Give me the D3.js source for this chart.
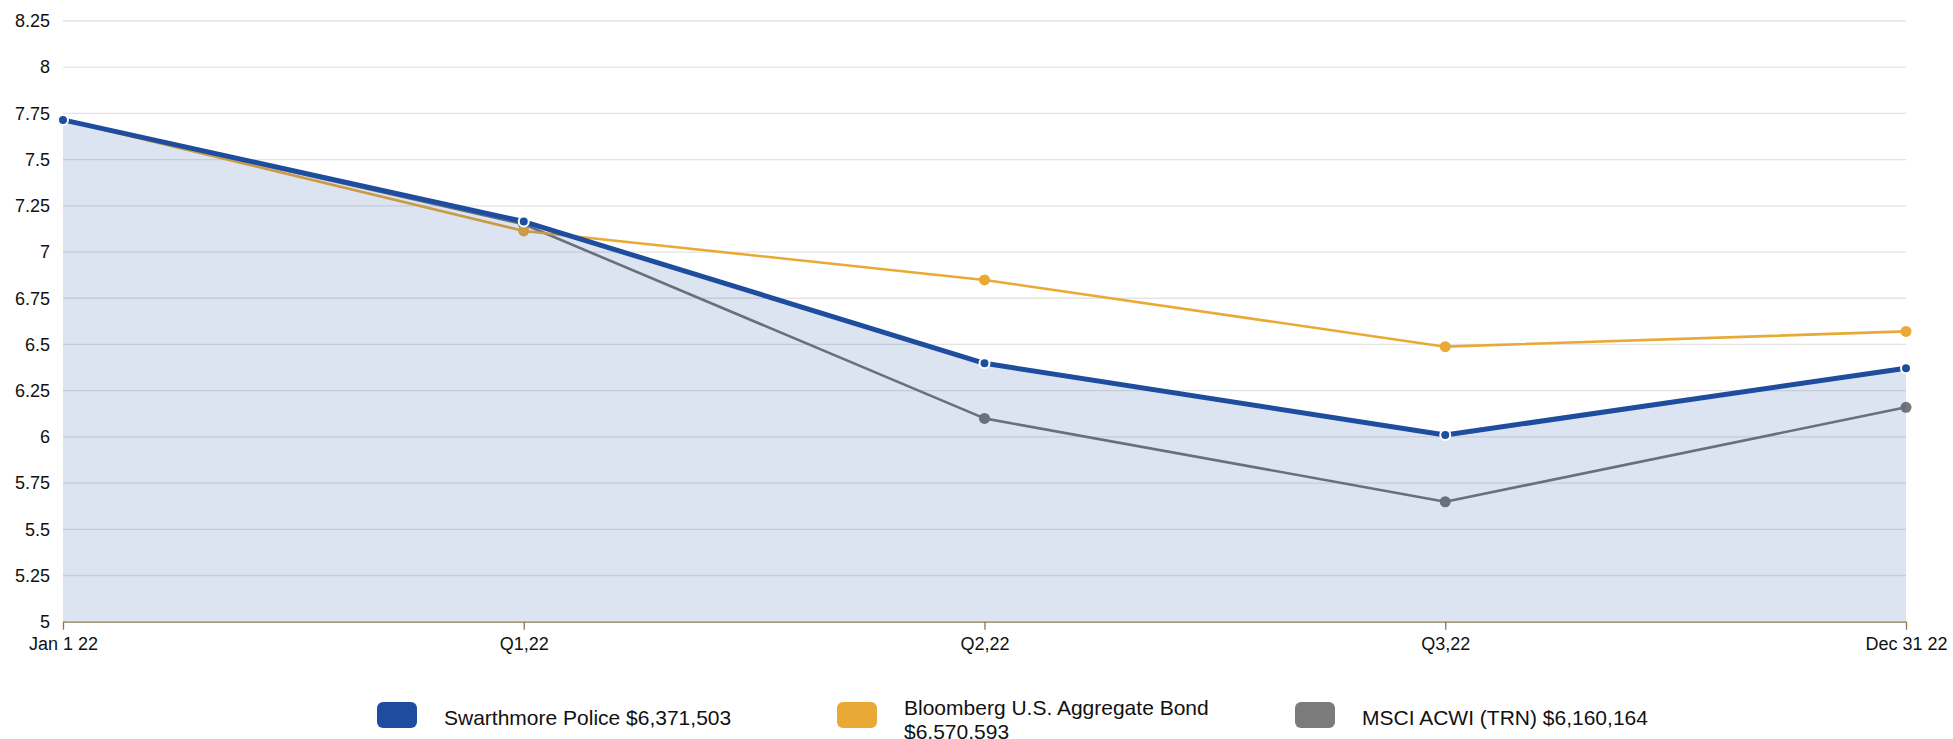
<!DOCTYPE html>
<html>
<head>
<meta charset="utf-8">
<script src="https://cdn.jsdelivr.net/npm/d3@7"></script>
<style>
  html, body { margin: 0; padding: 0; background: #fff; }
  svg { display: block; font-family: "Liberation Sans", Arial, sans-serif; }
</style>
</head>
<body>
<svg id="chart" width="1953" height="739"></svg>
<script>
// Period labels along the x axis
const periods = ["Jan 1 22", "Q1,22", "Q2,22", "Q3,22", "Dec 31 22"];

// Portfolio values (in $ millions) at each period
const swarthmore = [7.715, 7.165, 6.398, 6.010, 6.371503];
const bloomberg  = [7.715, 7.114, 6.849, 6.488, 6.570593];
const msci       = [7.715, 7.150, 6.100, 5.649, 6.160164];

// Y axis ticks
const yTicks = [5, 5.25, 5.5, 5.75, 6, 6.25, 6.5, 6.75, 7, 7.25, 7.5, 7.75, 8, 8.25];

// Legend entries
const legendNames = [
  ["Swarthmore Police $6,371,503"],
  ["Bloomberg U.S. Aggregate Bond", "$6,570,593"],
  ["MSCI ACWI (TRN) $6,160,164"]
];

const colors = { blue: "#1e4d9f", orange: "#e9a935", gray: "#777777" };

const svg = d3.select("#chart");
const plotLeft = 63, plotRight = 1906, plotTop = 21, plotBottom = 621.7;

const x = d3.scalePoint().domain(periods).range([plotLeft, plotRight]);
const y = d3.scaleLinear().domain([5, 8.25]).range([plotBottom, plotTop]);

// Horizontal grid lines
svg.append("g")
  .selectAll("line")
  .data(yTicks.filter(t => t > 5))
  .join("line")
  .attr("x1", plotLeft).attr("x2", plotRight)
  .attr("y1", d => y(d)).attr("y2", d => y(d))
  .attr("stroke", "#e3e3e3")
  .attr("stroke-width", 1.3);

// Y axis labels
const yAxis = d3.axisLeft(y).tickValues(yTicks).tickFormat(d => String(d)).tickSize(0).tickPadding(13);
svg.append("g")
  .attr("transform", `translate(${plotLeft},0)`)
  .call(yAxis)
  .call(g => g.select(".domain").remove())
  .call(g => g.selectAll("text")
    .attr("font-size", 18)
    .attr("font-family", "Liberation Sans, Arial, sans-serif")
    .attr("fill", "#111"));

const line = d3.line().x((d, i) => x(periods[i])).y(d => y(d));

// Benchmark series (drawn beneath the portfolio area)
function drawSeries(values, color) {
  svg.append("path")
    .datum(values)
    .attr("d", line)
    .attr("fill", "none")
    .attr("stroke", color)
    .attr("stroke-width", 2.6)
    .attr("stroke-linejoin", "round");
  svg.append("g")
    .selectAll("circle")
    .data(values)
    .join("circle")
    .attr("cx", (d, i) => x(periods[i]))
    .attr("cy", d => y(d))
    .attr("r", 5.5)
    .attr("fill", color);
}
drawSeries(msci, colors.gray);
drawSeries(bloomberg, colors.orange);

// Portfolio area, translucent so the benchmarks show through
const area = d3.area()
  .x((d, i) => x(periods[i]))
  .y0(y(5))
  .y1(d => y(d));
svg.append("path")
  .datum(swarthmore)
  .attr("d", area)
  .attr("fill", colors.blue)
  .attr("fill-opacity", 0.15);

// Portfolio line and markers
svg.append("path")
  .datum(swarthmore)
  .attr("d", line)
  .attr("fill", "none")
  .attr("stroke", colors.blue)
  .attr("stroke-width", 5)
  .attr("stroke-linejoin", "round");
svg.append("g")
  .selectAll("circle")
  .data(swarthmore)
  .join("circle")
  .attr("cx", (d, i) => x(periods[i]))
  .attr("cy", d => y(d))
  .attr("r", 5)
  .attr("fill", colors.blue)
  .attr("stroke", "#fff")
  .attr("stroke-width", 2);

// X axis
const xAxis = d3.axisBottom(x).tickSize(8).tickSizeOuter(0).tickPadding(8);
svg.append("g")
  .attr("transform", `translate(0,${plotBottom})`)
  .call(xAxis)
  .call(g => g.select(".domain").attr("stroke", "#8b7752").attr("stroke-width", 1.3))
  .call(g => g.selectAll(".tick line").attr("stroke", "#8b7752").attr("stroke-width", 1.3))
  .call(g => g.selectAll("text")
    .attr("font-size", 18)
    .attr("font-family", "Liberation Sans, Arial, sans-serif")
    .attr("fill", "#111"));

// Legend
const legendX = [377, 837, 1295];
const legendColors = [colors.blue, colors.orange, "#7b7b7b"];
const legend = svg.append("g");
legendNames.forEach((lines, i) => {
  const g = legend.append("g").attr("transform", `translate(${legendX[i]},0)`);
  g.append("rect")
    .attr("x", 0).attr("y", 702)
    .attr("width", 40).attr("height", 26)
    .attr("rx", 6).attr("ry", 6)
    .attr("fill", legendColors[i]);
  const t = g.append("text")
    .attr("x", 67)
    .attr("font-size", 21)
    .attr("fill", "#111");
  if (lines.length === 1) {
    t.attr("y", 725).text(lines[0]);
  } else {
    lines.forEach((s, j) => {
      t.append("tspan").attr("x", 67).attr("y", 715 + j * 24).text(s);
    });
  }
});
</script>
</body>
</html>
